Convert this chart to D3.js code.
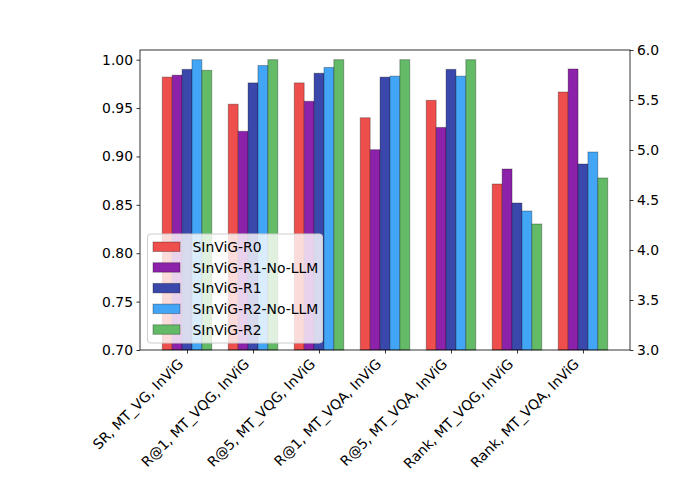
<!DOCTYPE html>
<html>
<head>
<meta charset="utf-8">
<script src="https://cdn.jsdelivr.net/npm/d3@7"></script>
<style>
  body { margin: 0; background: #fff; }
  text { font-family: "DejaVu Sans", sans-serif; }
</style>
</head>
<body>
<svg width="700" height="500"></svg>
<script>
// categories along the x axis
const categories = [
  'SR, MT_VG, InViG', 'R@1, MT_VQG, InViG', 'R@5, MT_VQG, InViG',
  'R@1, MT_VQA, InViG', 'R@5, MT_VQA, InViG',
  'Rank, MT_VQG, InViG', 'Rank, MT_VQA, InViG'
];
// which categories sit on the right (rank) axis
const rightAxisCats = ['Rank, MT_VQG, InViG', 'Rank, MT_VQA, InViG'];

const seriesNames = ['SInViG-R0', 'SInViG-R1-No-LLM', 'SInViG-R1', 'SInViG-R2-No-LLM', 'SInViG-R2'];
const seriesColors = ['#ef4f4c', '#8c22a9', '#3a48ab', '#42a5f5', '#63ba67'];

// one array per series, in category order (last two are ranks, right axis)
const r0 = [0.982, 0.954, 0.976, 0.940, 0.958, 4.66, 5.58];
const r1NoLLM = [0.984, 0.926, 0.957, 0.907, 0.930, 4.81, 5.81];
const r1 = [0.990, 0.976, 0.986, 0.982, 0.990, 4.47, 4.86];
const r2NoLLM = [1.000, 0.994, 0.992, 0.983, 0.983, 4.39, 4.98];
const r2 = [0.989, 1.000, 1.000, 1.000, 1.000, 4.26, 4.72];
const seriesValues = [r0, r1NoLLM, r1, r2NoLLM, r2];

const leftTicks = [0.70, 0.75, 0.80, 0.85, 0.90, 0.95, 1.00];
const rightTicks = [3.0, 3.5, 4.0, 4.5, 5.0, 5.5, 6.0];

const svg = d3.select('svg');
const margin = { left: 140, right: 630, top: 50, bottom: 350 };

const barW = 0.15;
const x = d3.scaleLinear().domain([-0.7125, 6.7125]).range([margin.left, margin.right]);
const yL = d3.scaleLinear().domain([0.70, 1.01]).range([margin.bottom, margin.top]);
const yR = d3.scaleLinear().domain([3.0, 6.0]).range([margin.bottom, margin.top]);

// flatten to one record per bar
const bars = [];
seriesValues.forEach((vals, s) => {
  vals.forEach((v, i) => {
    bars.push({ s, i, v, right: rightAxisCats.includes(categories[i]) });
  });
});

const plot = svg.append('g');
plot.selectAll('rect')
  .data(bars)
  .enter()
  .append('rect')
  .attr('x', (d) => x(d.i + (d.s - 2) * barW - barW / 2))
  .attr('width', x(barW) - x(0))
  .attr('y', (d) => (d.right ? yR(d.v) : yL(d.v)))
  .attr('height', (d) => margin.bottom - (d.right ? yR(d.v) : yL(d.v)))
  .attr('fill', (d) => seriesColors[d.s])
  .attr('stroke', '#000')
  .attr('stroke-opacity', 0.3)
  .attr('stroke-width', 1);

// axes
const leftAxis = d3.axisLeft(yL).tickValues(leftTicks).tickFormat(d3.format('.2f')).tickSizeOuter(0).tickSize(3.5).tickPadding(3.5);
const rightAxis = d3.axisRight(yR).tickValues(rightTicks).tickFormat(d3.format('.1f')).tickSizeOuter(0).tickSize(3.5).tickPadding(3.5);
const bottomAxis = d3.axisBottom(x).tickValues(d3.range(categories.length)).tickFormat('').tickSizeOuter(0).tickSize(3.5);

const gL = svg.append('g').attr('transform', `translate(${margin.left},0)`).call(leftAxis);
const gR = svg.append('g').attr('transform', `translate(${margin.right},0)`).call(rightAxis);
const gB = svg.append('g').attr('transform', `translate(0,${margin.bottom})`).call(bottomAxis);

[gL, gR, gB].forEach((g) => {
  g.select('.domain').remove();
  g.selectAll('line').attr('stroke', '#000').attr('stroke-width', 0.8);
  g.selectAll('text').attr('font-size', 13.9).attr('fill', '#000').attr('font-family', 'DejaVu Sans');
});

// rotated category labels
svg.append('g')
  .selectAll('text')
  .data(categories)
  .enter()
  .append('text')
  .attr('transform', (d, i) => `translate(${x(i) - 3},${365}) rotate(-45)`)
  .attr('text-anchor', 'end')
  .attr('font-size', 13.9)
  .text((d) => d);

// frame
svg.append('rect')
  .attr('x', margin.left).attr('y', margin.top)
  .attr('width', margin.right - margin.left)
  .attr('height', margin.bottom - margin.top)
  .attr('fill', 'none').attr('stroke', '#000').attr('stroke-width', 0.8);

// legend
const lg = svg.append('g').attr('transform', 'translate(147.5,234)');
lg.append('rect')
  .attr('width', 175).attr('height', 109)
  .attr('rx', 3)
  .attr('fill', '#fff').attr('fill-opacity', 0.8)
  .attr('stroke', '#ccc').attr('stroke-width', 1);
const items = lg.selectAll('g.item')
  .data(seriesNames)
  .enter()
  .append('g')
  .attr('transform', (d, i) => `translate(5.5,${8 + i * 20.7})`);
items.append('rect')
  .attr('width', 27).attr('height', 9.5)
  .attr('fill', (d, i) => seriesColors[i])
  .attr('stroke', '#000').attr('stroke-opacity', 0.3);
items.append('text')
  .attr('x', 39.5).attr('y', 10)
  .attr('font-size', 13.9)
  .text((d) => d);
</script>
</body>
</html>
